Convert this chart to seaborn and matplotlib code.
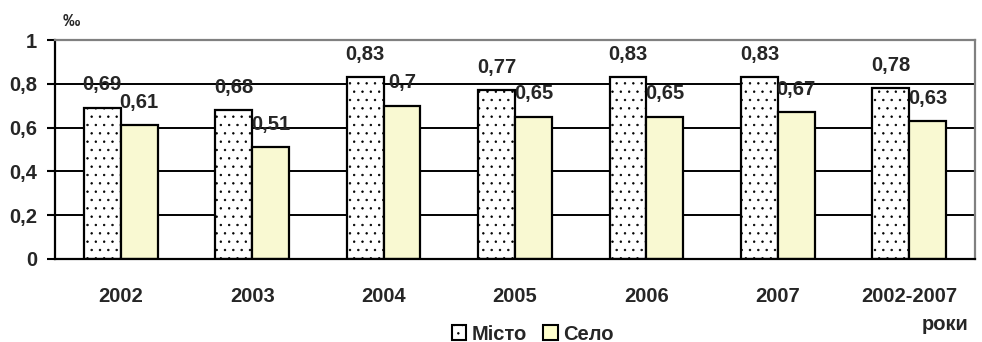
import matplotlib
matplotlib.use("Agg")
import matplotlib.pyplot as plt
import seaborn as sns
import pandas as pd
from matplotlib.patches import Patch
from matplotlib import font_manager as fm

categories = ["2002", "2003", "2004", "2005", "2006", "2007", "2002-2007"]
misto = [0.69, 0.68, 0.83, 0.77, 0.83, 0.83, 0.78]
selo = [0.61, 0.51, 0.70, 0.65, 0.65, 0.67, 0.63]
series = ["Місто", "Село"]
ylabels = ["0", "0,2", "0,4", "0,6", "0,8", "1"]
yticks = [0, 0.2, 0.4, 0.6, 0.8, 1.0]

sns.set_style("white")
plt.rcParams['font.family'] = 'Liberation Sans'
plt.rcParams['font.weight'] = 'bold'
plt.rcParams['hatch.linewidth'] = 0.5
plt.rcParams['hatch.color'] = '#333333'

bold_path = None
for f in fm.fontManager.ttflist:
    if f.name == "Liberation Sans" and f.weight in (700, "bold"):
        bold_path = f.fname
        break

def fp(size):
    if bold_path:
        return fm.FontProperties(fname=bold_path, size=size)
    return fm.FontProperties(family="Liberation Sans", weight="bold", size=size)

FS = 14.5

df = pd.DataFrame({
    "year": categories * 2,
    "value": misto + selo,
    "series": [series[0]] * len(categories) + [series[1]] * len(categories),
})

fig = plt.figure(figsize=(9.82, 3.42), dpi=100)
ax = fig.add_axes([55/982, (342-259)/342, 920/982, 219/342])

colors = {"Місто": "#FFFFFF", "Село": "#FFFFCC"}
sns.barplot(data=df, x="year", y="value", hue="series", palette=colors,
            width=0.56, edgecolor="black", linewidth=1.6, ax=ax, legend=False,
            order=categories, hue_order=series, errorbar=None, zorder=3)

n = len(categories)
for i, p in enumerate(ax.patches[:2*n]):
    if i < n:
        p.set_hatch("..")

# value labels
for i, p in enumerate(ax.patches[:2*n]):
    h = p.get_height()
    txt = f"{h:.2f}".rstrip("0").replace(".", ",")
    cx = p.get_x() + p.get_width() / 2
    ax.text(cx, h + 0.08, txt, ha="center", va="baseline", fontproperties=fp(FS), zorder=5)

ax.set_ylim(0, 1)
ax.set_xlim(-0.5, n - 0.5)
ax.set_yticks(yticks)
ax.set_yticklabels(ylabels, fontproperties=fp(FS))
ax.set_xticks(range(n))
ax.set_xticklabels(categories, fontproperties=fp(FS))
ax.tick_params(axis="x", which="major", length=0, pad=20)
ax.set_xticks([i - 0.5 for i in range(n + 1)], minor=True)
ax.tick_params(axis="x", which="minor", length=7, width=1.5, direction="out", color="black")
ax.tick_params(axis="y", length=6, width=1.5, direction="out", color="black", pad=7, left=True)
ax.set_xlabel("")
ax.set_ylabel("")

for y in [0.2, 0.4, 0.6, 0.8]:
    ax.axhline(y, color="black", lw=1.4, zorder=1)

for s in ["left", "bottom"]:
    ax.spines[s].set_color("black")
    ax.spines[s].set_linewidth(1.6)
for s in ["top", "right"]:
    ax.spines[s].set_color("#808080")
    ax.spines[s].set_linewidth(1.6)
ax.spines["bottom"].set_zorder(6)

fig.text(71/982, 1 - 22/342, "‰", fontproperties=fp(12.5), ha="center", va="center")
fig.text(968/982, 1 - 325/342, "роки", fontproperties=fp(FS), ha="right", va="center")

handles = [Patch(facecolor="white", edgecolor="black", hatch="..", linewidth=1.5),
           Patch(facecolor="#FFFFCC", edgecolor="black", linewidth=1.5)]
fig.legend(handles, series, loc="center", bbox_to_anchor=(533/982, 1 - 334/342),
           ncol=2, frameon=False, handlelength=0.7, handleheight=0.7,
           handletextpad=0.3, columnspacing=0.8, borderpad=0, prop=fp(FS))

fig.savefig("out.png", dpi=100)
